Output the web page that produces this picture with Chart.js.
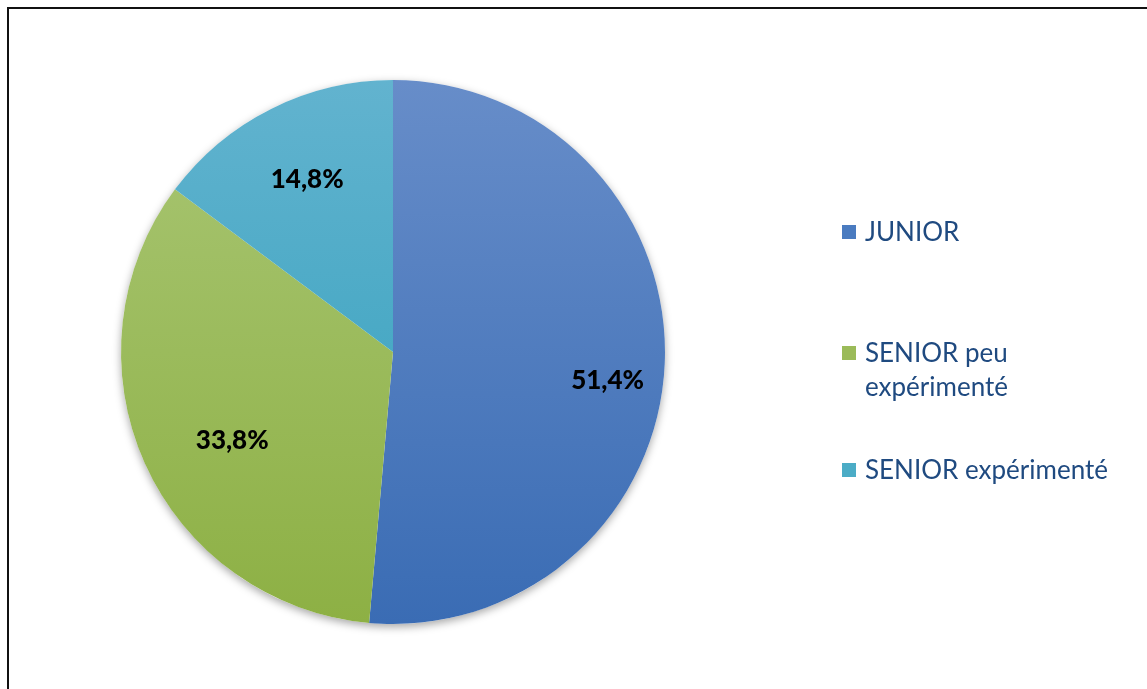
<!DOCTYPE html>
<html>
<head>
<meta charset="utf-8">
<script src="https://cdn.jsdelivr.net/npm/chart.js@4"></script>
<style>
    body { margin: 0; background: #fff; }
    .frame {
        position: absolute;
        left: 7px; top: 7px;
        width: 1160px; height: 700px;
        border: 2px solid #111;
        box-sizing: border-box;
    }
    .chartContainer {
        position: absolute;
        left: 0; top: 0;
        width: 1147px; height: 689px;
    }
    .legend {
        position: absolute;
        left: 842px; top: 0;
        font-family: Lato, "Open Sans", sans-serif;
        font-size: 26px;
        color: #1f4a80;
    }
    .legend .item {
        position: absolute;
        left: 0;
        width: 300px;
        line-height: 34px;
        padding-left: 23px;
    }
    .legend .box {
        position: absolute;
        left: 0; top: 11px;
        width: 14px; height: 14px;
    }
</style>
</head>
<body>
<div class="chartContainer"><canvas id="chart" width="1147" height="689"></canvas></div>
<div class="frame"></div>
<div class="legend" id="legend"></div>
<script>
const categories = ['JUNIOR', 'SENIOR peu expérimenté', 'SENIOR expérimenté'];
const legendLines = [['JUNIOR'], ['SENIOR peu', 'expérimenté'], ['SENIOR expérimenté']];
const shares = [51.4, 33.8, 14.8];
const topColors = ['#678dc9', '#a9c674', '#62b3cf'];
const bottomColors = ['#3a6cb4', '#8db044', '#2f9fbb'];
const legendColors = ['#4a7bc0', '#9bbb59', '#4bacc6'];
const legendTops = [214, 335, 452];

// soft shadow under the pie
const pieShadow = {
    id: 'pieShadow',
    beforeDatasetsDraw(chart) {
        const arc = chart.getDatasetMeta(0).data[0];
        if (!arc) return;
        const ctx = chart.ctx;
        ctx.save();
        ctx.shadowColor = 'rgba(0,0,0,0.35)';
        ctx.shadowBlur = 9;
        ctx.shadowOffsetY = 3;
        ctx.fillStyle = '#fff';
        ctx.beginPath();
        ctx.arc(arc.x, arc.y, arc.outerRadius, 0, Math.PI * 2);
        ctx.fill();
        ctx.restore();
    }
};

// percentage labels inside the slices
const sliceLabels = {
    id: 'sliceLabels',
    afterDatasetsDraw(chart) {
        const ctx = chart.ctx;
        const nudges = [[19, 20], [18, 9], [2, 3]];
        ctx.save();
        ctx.font = '900 26px Lato, "Open Sans", sans-serif';
        ctx.fillStyle = '#000';
        ctx.textAlign = 'center';
        ctx.textBaseline = 'middle';
        chart.getDatasetMeta(0).data.forEach((arc, i) => {
            const mid = (arc.startAngle + arc.endAngle) / 2;
            const r = arc.outerRadius * 0.72;
            const x = arc.x + Math.cos(mid) * r + nudges[i][0];
            const y = arc.y + Math.sin(mid) * r + nudges[i][1];
            ctx.fillText(shares[i].toFixed(1).replace('.', ',') + '%', x, y);
        });
        ctx.restore();
    }
};

const ctx = document.getElementById('chart').getContext('2d');
const myChart = new Chart(ctx, {
    type: 'pie',
    data: {
        labels: categories,
        datasets: [{
            data: shares,
            borderWidth: 0,
            backgroundColor: (c) => {
                const area = c.chart.chartArea;
                if (!area) return topColors[c.dataIndex];
                const g = c.chart.ctx.createLinearGradient(0, area.top, 0, area.bottom);
                g.addColorStop(0, topColors[c.dataIndex]);
                g.addColorStop(1, bottomColors[c.dataIndex]);
                return g;
            }
        }]
    },
    options: {
        responsive: false,
        animation: false,
        layout: { padding: { left: 121, right: 482, top: 80, bottom: 65 } },
        plugins: {
            legend: { display: false },
            tooltip: { enabled: false }
        }
    },
    plugins: [pieShadow, sliceLabels]
});

const legend = document.getElementById('legend');
categories.forEach((name, i) => {
    const item = document.createElement('div');
    item.className = 'item';
    item.style.top = legendTops[i] + 'px';
    const box = document.createElement('span');
    box.className = 'box';
    box.style.background = legendColors[i];
    item.appendChild(box);
    legendLines[i].forEach((line, k) => {
        if (k > 0) item.appendChild(document.createElement('br'));
        item.appendChild(document.createTextNode(line));
    });
    legend.appendChild(item);
});
</script>
</body>
</html>
